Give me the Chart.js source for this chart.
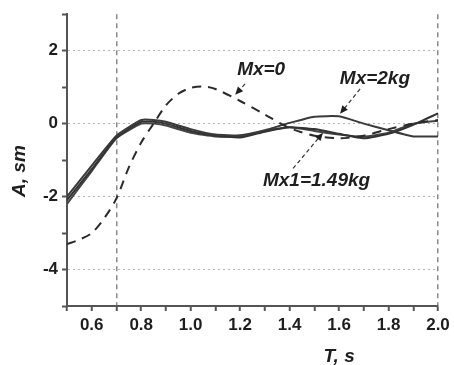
<!DOCTYPE html>
<html>
<head>
<meta charset="utf-8">
<script src="https://cdn.jsdelivr.net/npm/chart.js@4.4.0/dist/chart.umd.min.js"></script>
<style>
html, body { margin: 0; padding: 0; background: #fff; }
#wrap { width: 454px; height: 365px; }
</style>
</head>
<body>
<div id="wrap"><canvas id="chart"></canvas></div>
<script>
// time axis (s) and amplitude (sm)
const dashedTimes = [0.5, 0.55, 0.6, 0.65, 0.7, 0.75, 0.8, 0.85, 0.9, 0.95, 1.0, 1.05, 1.1, 1.2, 1.3, 1.4, 1.5, 1.6, 1.7, 1.8, 1.9, 2.0];
const mx0Values = [-3.3, -3.18, -3.0, -2.6, -2.05, -1.2, -0.52, 0.0, 0.5, 0.82, 0.98, 1.02, 0.95, 0.62, 0.25, -0.12, -0.33, -0.4, -0.33, -0.15, 0.0, 0.1];

const solidTimes = [0.5, 0.6, 0.7, 0.8, 0.85, 0.9, 1.0, 1.1, 1.2, 1.3, 1.4, 1.5, 1.6, 1.7, 1.8, 1.9, 2.0];
const mx2Values = [-2.0, -1.15, -0.33, 0.1, 0.1, 0.05, -0.15, -0.3, -0.32, -0.18, 0.02, 0.19, 0.2, 0.0, -0.18, -0.35, -0.35];
const mx149Values = [-2.1, -1.25, -0.38, 0.05, 0.05, 0.0, -0.2, -0.33, -0.38, -0.22, -0.1, -0.15, -0.28, -0.4, -0.28, -0.03, 0.28];
const thirdValues = [-2.2, -1.3, -0.4, 0.0, 0.0, -0.05, -0.25, -0.35, -0.35, -0.2, -0.1, -0.2, -0.3, -0.36, -0.25, 0.0, 0.08];

const yTickLabels = [-4, -2, 0, 2];

// callout texts: label anchor and arrow (data units)
const callouts = [
    { text: 'Mx=0', t: 1.285, a: 1.47, fromT: 1.22, fromA: 1.09, toT: 1.18, toA: 0.79 },
    { text: 'Mx=2kg', t: 1.745, a: 1.23, fromT: 1.685, fromA: 0.95, toT: 1.604, toA: 0.27 },
    { text: 'Mx1=1.49kg', t: 1.509, a: -1.58, fromT: 1.414, fromA: -1.23, toT: 1.535, toA: -0.25 }
];

function toPoints(times, values) {
    return times.map(function(t, i) { return { x: t, y: values[i] }; });
}

const labelFont = 'italic bold 19px "Liberation Sans", Arial, sans-serif';

const calloutPlugin = {
    id: 'callouts',
    afterDraw(chart) {
        const ctx = chart.ctx;
        const xs = chart.scales.x;
        const ys = chart.scales.y;
        ctx.save();
        ctx.fillStyle = '#1e1e1e';
        ctx.strokeStyle = '#333';
        ctx.font = labelFont;
        ctx.textAlign = 'center';
        ctx.textBaseline = 'middle';
        callouts.forEach(function(c) {
            ctx.fillText(c.text, xs.getPixelForValue(c.t), ys.getPixelForValue(c.a));
            const x1 = xs.getPixelForValue(c.fromT), y1 = ys.getPixelForValue(c.fromA);
            const x2 = xs.getPixelForValue(c.toT), y2 = ys.getPixelForValue(c.toA);
            const ang = Math.atan2(y2 - y1, x2 - x1);
            ctx.lineWidth = 1.2;
            ctx.setLineDash([4, 3]);
            ctx.beginPath();
            ctx.moveTo(x1, y1);
            ctx.lineTo(x2 - 6 * Math.cos(ang), y2 - 6 * Math.sin(ang));
            ctx.stroke();
            ctx.setLineDash([]);
            ctx.beginPath();
            ctx.moveTo(x2, y2);
            ctx.lineTo(x2 - 8 * Math.cos(ang) + 3.5 * Math.sin(ang), y2 - 8 * Math.sin(ang) - 3.5 * Math.cos(ang));
            ctx.lineTo(x2 - 8 * Math.cos(ang) - 3.5 * Math.sin(ang), y2 - 8 * Math.sin(ang) + 3.5 * Math.cos(ang));
            ctx.closePath();
            ctx.fill();
        });

        // axis titles
        ctx.fillText('T, s', xs.getPixelForValue(1.6), 357);
        ctx.translate(20, ys.getPixelForValue(-1.3));
        ctx.rotate(-Math.PI / 2);
        ctx.fillText('A, sm', 0, 0);
        ctx.restore();
    }
};

const tickFont = { family: '"Liberation Sans", Arial, sans-serif', size: 17, weight: 'bold' };

new Chart(document.getElementById('chart'), {
    type: 'line',
    data: {
        datasets: [
            {
                label: 'Mx=0',
                data: toPoints(dashedTimes, mx0Values),
                borderColor: '#2b2b2b',
                borderWidth: 2,
                borderDash: [9, 7],
                tension: 0.3
            },
            {
                label: 'Mx=2kg',
                data: toPoints(solidTimes, mx2Values),
                borderColor: '#3a3a3a',
                borderWidth: 2,
                tension: 0.15
            },
            {
                label: 'Mx1=1.49kg',
                data: toPoints(solidTimes, mx149Values),
                borderColor: '#333',
                borderWidth: 2,
                tension: 0.15
            },
            {
                label: 'series 3',
                data: toPoints(solidTimes, thirdValues),
                borderColor: '#444',
                borderWidth: 2,
                tension: 0.15
            }
        ]
    },
    options: {
        responsive: true,
        maintainAspectRatio: false,
        animation: false,
        layout: { padding: { top: 12, right: 16, left: 0, bottom: 0 } },
        elements: { point: { radius: 0 } },
        plugins: {
            legend: { display: false },
            tooltip: { enabled: false }
        },
        scales: {
            x: {
                type: 'linear',
                min: 0.5,
                max: 2.0,
                afterFit: function(scale) { scale.height = 59; },
                ticks: {
                    stepSize: 0.1,
                    color: '#1e1e1e',
                    font: tickFont,
                    padding: 4,
                    maxRotation: 0,
                    autoSkip: false,
                    callback: function(v) {
                        const k = Math.round(v * 10);
                        return (k % 2 === 0) ? (k / 10).toFixed(1) : '';
                    }
                },
                grid: {
                    color: function(ctx) {
                        const k = Math.round(ctx.tick.value * 10);
                        return (k === 7 || k === 20) ? '#8a8a8a' : 'rgba(0,0,0,0)';
                    },
                    lineWidth: 1.5,
                    tickColor: '#555',
                    tickWidth: 2,
                    tickLength: 5,
                    tickBorderDash: []
                },
                border: { color: '#555', width: 2, dash: [5, 4] }
            },
            y: {
                min: -5,
                max: 3,
                afterFit: function(scale) { scale.width = 67; },
                ticks: {
                    stepSize: 1,
                    color: '#1e1e1e',
                    font: tickFont,
                    padding: 4,
                    callback: function(v) {
                        return yTickLabels.indexOf(v) >= 0 ? String(v) : '';
                    }
                },
                grid: {
                    color: function(ctx) {
                        return yTickLabels.indexOf(ctx.tick.value) >= 0 ? '#b5b5b5' : 'rgba(0,0,0,0)';
                    },
                    lineWidth: 1,
                    tickColor: '#555',
                    tickWidth: 2,
                    tickLength: 5,
                    tickBorderDash: []
                },
                border: { color: '#555', width: 2, dash: [2, 3] }
            }
        }
    },
    plugins: [calloutPlugin]
});
</script>
</body>
</html>
